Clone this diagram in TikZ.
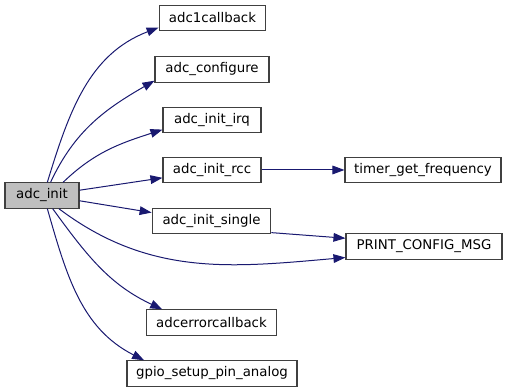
\documentclass[tikz,border=0pt]{standalone}
\usepackage{fontspec}
\setmainfont{DejaVu Sans}
\usepackage{xcolor}
\usetikzlibrary{arrows.meta}
\definecolor{edgeblue}{RGB}{25,25,112}

\begin{document}
\begin{tikzpicture}[x=0.75pt,y=0.75pt,
  fn/.style={draw=black!75,line width=0.8pt,minimum height=19pt,inner sep=0pt,font=\fontsize{10}{12}\selectfont},
  call/.style={draw=edgeblue,line width=0.75pt,-{Triangle[length=9pt,width=6.5pt,fill=edgeblue]}}]
\useasboundingbox (0,0) rectangle (508,392);

% functions
\node[fn,fill=black!25,minimum width=55.5pt] (init) at (42,196.5) {adc\_init};
\node[fn,minimum width=80pt]   (cb)     at (212.5,374) {adc1callback};
\node[fn,minimum width=85.5pt] (conf)   at (212,322.5) {adc\_configure};
\node[fn,minimum width=73.5pt] (irq)    at (212,272)   {adc\_init\_irq};
\node[fn,minimum width=73.5pt] (rcc)    at (212,222)   {adc\_init\_rcc};
\node[fn,minimum width=117pt]  (timer)  at (423,222)   {timer\_get\_frequency};
\node[fn,minimum width=89pt]   (single) at (211.5,171) {adc\_init\_single};
\node[fn,minimum width=117pt]  (print)  at (424,145.5) {PRINT\_CONFIG\_MSG};
\node[fn,minimum width=98pt]   (err)    at (211.5,69.5) {adcerrorcallback};
\node[fn,minimum width=127.5pt] (gpio)  at (212,18.5)  {gpio\_setup\_pin\_analog};

% calls
\draw[call] (init.68) to[out=73,in=201] (cb.190);
\draw[call] (init.57) to[out=65,in=210] (conf.191);
\draw[call] (init.32) to[out=44,in=198] (irq.191);
\draw[call] (init.8) -- (rcc.189);
\draw[call] (init.-8) -- (single.172);
\draw[call] (init.-38) to[out=-37,in=185] (print.188);
\draw[call] (init.-51) to[out=-54,in=155] (err.165);
\draw[call] (init.-68) to[out=-74,in=153] (gpio.169);
\draw[call] (rcc.east) -- (timer.west);
\draw[call] (single.349.5) -- (print.174.5);
\end{tikzpicture}
\end{document}
